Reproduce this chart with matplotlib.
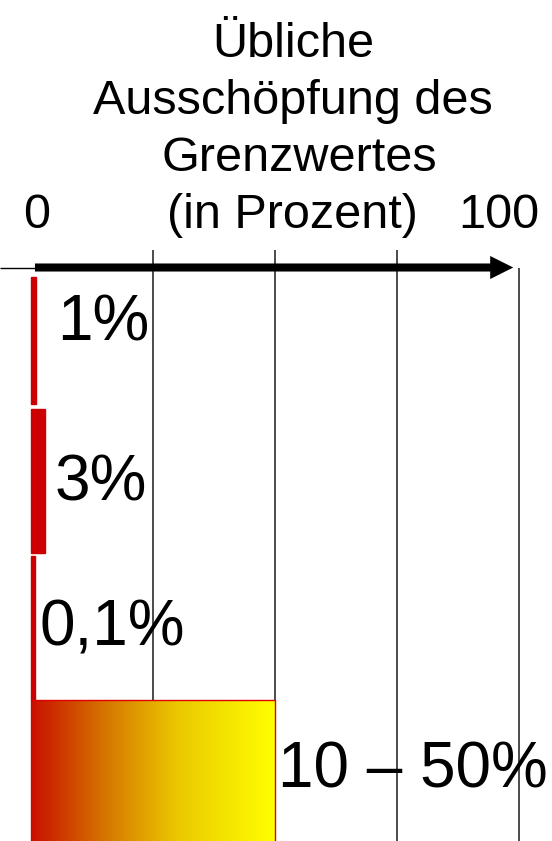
#!/usr/bin/env python3
"""Typical utilisation of the limit value (Grenzwert), drawn as a bar strip."""

import matplotlib.pyplot as plt
import numpy as np
from matplotlib.colors import LinearSegmentedColormap

plt.rcParams["font.family"] = ["Liberation Sans", "DejaVu Sans"]

# ---------------------------------------------------------------------------
# Data
# ---------------------------------------------------------------------------
TITLE_LINES = ["Übliche", "Ausschöpfung des", "Grenzwertes", "(in Prozent)"]
AXIS_MIN, AXIS_MAX = 0, 100
AXIS_LABELS = ["0", "100"]
GRID_VALUES = [25, 50, 75, 100]
BAR_LABELS = ["1%", "3%", "0,1%", "10 – 50%"]
BAR_VALUES = [1, 3, 0.1, 50]
BAR_GRADIENT = [False, False, False, True]

# ---------------------------------------------------------------------------
# Layout, in pixels of the 552 x 841 canvas
# ---------------------------------------------------------------------------
WIDTH_PX, HEIGHT_PX = 552, 841
ZERO_PX = 30.8
PX_PER_UNIT = 4.88
AXIS_Y = 267.5
GRID_TOP = 250
ROW_SPANS = [(277, 404), (409, 553), (556, 700), (700, 850)]
LABEL_POS = [(57, 340), (55, 500), (40, 645), (278, 788)]
TITLE_CENTERS = [293, 293, 299, 292]
TITLE_BASELINES = [57, 114, 171, 228]
AXIS_LABEL_POS = [(36.5, 228), (499, 228)]
MIN_BAR = 0.8

RED = "#cc0000"


def px_to_x(px: float) -> float:
    return (px - ZERO_PX) / PX_PER_UNIT


def main() -> None:
    fig = plt.figure(figsize=(WIDTH_PX / 100, HEIGHT_PX / 100), dpi=100)
    ax = fig.add_axes([0, 0, 1, 1])
    ax.set_xlim(px_to_x(0), px_to_x(WIDTH_PX))
    ax.set_ylim(HEIGHT_PX, 0)
    ax.axis("off")

    # grid lines behind everything
    for value in GRID_VALUES:
        top = AXIS_Y if value == AXIS_MAX else GRID_TOP
        ax.vlines(value, top, HEIGHT_PX, color="#1a1a1a", lw=1.1, zorder=1)

    # thin lead-in line and the thick axis arrow
    ax.plot([px_to_x(0), AXIS_MIN + 0.9], [AXIS_Y, AXIS_Y], color="black",
            lw=1.0, solid_capstyle="butt", zorder=3)
    ax.annotate(
        "",
        xy=(AXIS_MAX, AXIS_Y),
        xytext=(AXIS_MIN, AXIS_Y),
        arrowprops=dict(
            arrowstyle="simple,head_length=1.66,head_width=1.66,tail_width=0.58",
            mutation_scale=10,
            fc="black",
            ec="none",
            lw=0,
            shrinkA=3.0,
            shrinkB=4.0,
        ),
        zorder=4,
    )

    cmap = LinearSegmentedColormap.from_list(
        "redyellow",
        [(0.0, "#c81000"), (0.3, "#d67400"), (0.6, "#ebc800"), (1.0, "#ffff00")],
    )

    for value, gradient, (top, bottom) in zip(BAR_VALUES, BAR_GRADIENT, ROW_SPANS):
        center = (top + bottom) / 2
        height = bottom - top
        if gradient:
            bar = ax.barh(center, value, height=height, left=AXIS_MIN,
                          facecolor="none", edgecolor="#e00000", lw=1.0, zorder=3)
            img = ax.imshow(
                np.linspace(0, 1, 256)[None, :],
                cmap=cmap,
                aspect="auto",
                extent=[AXIS_MIN, value, bottom, top],
                interpolation="bilinear",
                zorder=2,
            )
            img.set_clip_path(bar.patches[0])
        else:
            ax.barh(center, max(value, MIN_BAR), height=height, left=AXIS_MIN,
                    color=RED, edgecolor=RED, lw=1.0, zorder=2)

    for label, (x_px, y_px) in zip(BAR_LABELS, LABEL_POS):
        ax.text(px_to_x(x_px), y_px, label, fontsize=46, ha="left",
                va="baseline", zorder=5)

    for line, cx, by in zip(TITLE_LINES, TITLE_CENTERS, TITLE_BASELINES):
        ax.text(px_to_x(cx), by, line, fontsize=35, ha="center", va="baseline")

    for label, (cx, by) in zip(AXIS_LABELS, AXIS_LABEL_POS):
        ax.text(px_to_x(cx), by, label, fontsize=35, ha="center", va="baseline")

    fig.savefig("out.png", dpi=100)
    plt.close(fig)


if __name__ == "__main__":
    main()
